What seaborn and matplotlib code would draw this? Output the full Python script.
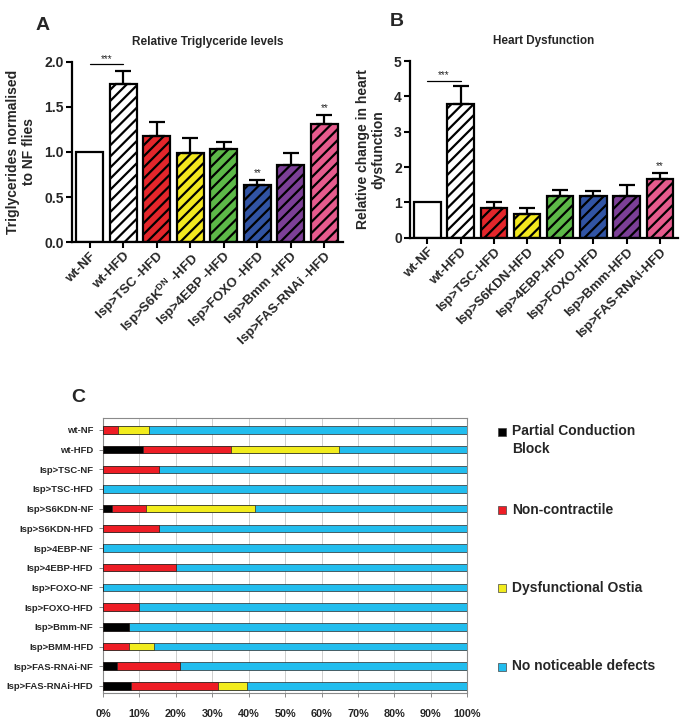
import numpy as np
import pandas as pd
import matplotlib
matplotlib.use("Agg")
import matplotlib.pyplot as plt
import seaborn as sns
from matplotlib.patches import Rectangle

# ── Data ─────────────────────────────────────────────────────────────────────
tg_labels = ["wt-NF", "wt-HFD", "Isp>TSC -HFD", "Isp>S6K$^{DN}$ -HFD",
             "Isp>4EBP -HFD", "Isp>FOXO -HFD", "Isp>Bmm -HFD", "Isp>FAS-RNAi -HFD"]
tg_mean = [1.00, 1.75, 1.18, 0.99, 1.03, 0.63, 0.86, 1.31]
tg_err = [0.00, 0.15, 0.15, 0.17, 0.08, 0.06, 0.13, 0.10]
tg_sig = ["", "", "", "", "", "**", "", "**"]

hd_labels = ["wt-NF", "wt-HFD", "Isp>TSC-HFD", "Isp>S6KDN-HFD",
             "Isp>4EBP-HFD", "Isp>FOXO-HFD", "Isp>Bmm-HFD", "Isp>FAS-RNAi-HFD"]
hd_mean = [1.00, 3.78, 0.84, 0.67, 1.18, 1.17, 1.17, 1.67]
hd_err = [0.00, 0.51, 0.16, 0.17, 0.16, 0.16, 0.33, 0.17]
hd_sig = ["", "", "", "", "", "", "", "**"]

conditions = ["wt-NF", "wt-HFD", "Isp>TSC-NF", "Isp>TSC-HFD", "Isp>S6KDN-NF",
              "Isp>S6KDN-HFD", "Isp>4EBP-NF", "Isp>4EBP-HFD", "Isp>FOXO-NF",
              "Isp>FOXO-HFD", "Isp>Bmm-NF", "Isp>BMM-HFD", "Isp>FAS-RNAi-NF",
              "Isp>FAS-RNAi-HFD"]
partial_block = [0, 10.9, 0, 0, 2.4, 0, 0, 0, 0, 0, 7.1, 0, 3.9, 7.8]
non_contractile = [4.2, 24.3, 15.3, 0, 9.3, 15.3, 0, 20.0, 0, 10.0, 0, 7.1, 17.1, 23.9]
dys_ostia = [8.4, 29.6, 0, 0, 29.9, 0, 0, 0, 0, 0, 0, 7.0, 0, 7.7]
no_defects = [87.4, 35.2, 84.7, 100, 58.4, 84.7, 100, 80.0, 100, 90.0, 92.9, 85.9, 79.0, 60.6]
defect_names = ["Partial Conduction\nBlock", "Non-contractile",
                "Dysfunctional Ostia", "No noticeable defects"]

# ── Styles ───────────────────────────────────────────────────────────────────
bar_colors = ["#ffffff", "#ffffff", "#e4262b", "#f3e81f", "#5db948",
              "#3154a4", "#7c3f97", "#e65b8d"]
bar_hatch = ["", "///", "///", "///", "///", "///", "///", "///"]
defect_colors = ["#000000", "#ee1d25", "#f2ec1d", "#22bdee"]

sns.set_theme(style="ticks")
plt.rcParams["font.family"] = ["Liberation Sans", "DejaVu Sans"]
plt.rcParams["mathtext.fontset"] = "custom"
plt.rcParams["mathtext.rm"] = "Liberation Sans:bold"
plt.rcParams["mathtext.bf"] = "Liberation Sans:bold"
plt.rcParams["mathtext.default"] = "bf"
plt.rcParams["hatch.linewidth"] = 1.6
plt.rcParams["hatch.color"] = "black"

fig = plt.figure(figsize=(6.87, 7.27), dpi=100)


def bar_panel(ax, labels, mean, err, sig, ylim, yticks, yfmt, title, ylabel):
    sns.barplot(x=labels, y=mean, hue=labels, palette=bar_colors, legend=False,
                ax=ax, width=0.8, edgecolor="black", linewidth=1.6, saturation=1)
    for patch, h in zip(ax.patches, bar_hatch):
        patch.set_hatch(h)
    idx = [i for i, e in enumerate(err) if e > 0]
    ax.errorbar(idx, [mean[i] for i in idx],
                yerr=[[0] * len(idx), [err[i] for i in idx]],
                fmt="none", ecolor="black", elinewidth=1.6, capsize=5.5, capthick=1.6)
    for i, s in enumerate(sig):
        if s:
            ax.text(i, mean[i] + err[i] + ylim[1] * 0.012, s, ha="center",
                    va="bottom", fontsize=7)
    ax.set_xlim(-0.52, 7.55)
    ax.set_ylim(*ylim)
    ax.set_yticks(yticks)
    ax.set_yticklabels([yfmt.format(v) for v in yticks], fontsize=10, fontweight="bold")
    ax.set_xticks(range(len(labels)))
    ax.set_xticklabels(labels, rotation=45, ha="right", rotation_mode="anchor",
                       fontsize=9.5, fontweight="bold")
    ax.tick_params(axis="both", length=4, width=1.5, color="black", pad=2)
    for side in ["left", "bottom"]:
        ax.spines[side].set_linewidth(1.6)
        ax.spines[side].set_color("black")
    sns.despine(ax=ax)
    ax.set_title(title, fontsize=8.5, fontweight="bold", pad=12)
    ax.set_ylabel(ylabel, fontsize=10, fontweight="bold", labelpad=6)


# ── Panel A ──────────────────────────────────────────────────────────────────
ax_a = fig.add_axes([0.105, 0.667, 0.394, 0.248])
bar_panel(ax_a, tg_labels, tg_mean, tg_err, tg_sig, (0, 2.0),
          [0.0, 0.5, 1.0, 1.5, 2.0], "{:.1f}", "Relative Triglyceride levels",
          "Triglycerides normalised\nto NF flies")
top_a = tg_mean[1] + tg_err[1] + 0.07
ax_a.plot([0, 1], [top_a, top_a], color="black", lw=0.9, clip_on=False)
ax_a.text(0.5, top_a + 0.01, "***", ha="center", va="bottom", fontsize=7)
fig.text(0.062, 0.965, "A", fontsize=14, fontweight="bold", ha="center", va="center")

# ── Panel B ──────────────────────────────────────────────────────────────────
ax_b = fig.add_axes([0.597, 0.673, 0.390, 0.243])
bar_panel(ax_b, hd_labels, hd_mean, hd_err, hd_sig, (0, 5),
          [0, 1, 2, 3, 4, 5], "{:d}", "Heart Dysfunction",
          "Relative change in heart\ndysfunction")
top_b = hd_mean[1] + hd_err[1] + 0.14
ax_b.plot([0, 1], [top_b, top_b], color="black", lw=0.9, clip_on=False)
ax_b.text(0.5, top_b + 0.02, "***", ha="center", va="bottom", fontsize=7)
fig.text(0.578, 0.971, "B", fontsize=14, fontweight="bold", ha="center", va="center")

# ── Panel C ──────────────────────────────────────────────────────────────────
ax_c = fig.add_axes([0.150, 0.047, 0.530, 0.378])
layers = [partial_block, non_contractile, dys_ostia, no_defects]
cum = np.cumsum(np.array(layers, dtype=float), axis=0)
for k in range(len(layers) - 1, -1, -1):
    sns.barplot(x=cum[k], y=conditions, orient="h", color=defect_colors[k],
                saturation=1, width=0.38, edgecolor="#2a2a2a", linewidth=0.5,
                ax=ax_c, zorder=3)
ax_c.set_xlim(0, 100)
ax_c.set_ylim(len(conditions) - 0.65, -0.6)
ax_c.set_xticks(np.arange(0, 101, 10))
ax_c.set_xticklabels([f"{v}%" for v in range(0, 101, 10)], fontsize=7.8,
                     fontweight="bold")
ax_c.set_yticklabels(conditions, fontsize=6.8, fontweight="bold")
ax_c.grid(axis="x", color="#cfcfcf", lw=0.7, zorder=0)
ax_c.set_axisbelow(True)
ax_c.tick_params(axis="y", length=3, width=0.6, color="#777777", pad=4)
ax_c.tick_params(axis="x", length=3, width=0.6, color="#777777", pad=9)
for sp in ax_c.spines.values():
    sp.set_color("#8a8a8a")
    sp.set_linewidth(0.8)
ax_c.set_xlabel("")
ax_c.set_ylabel("")
fig.text(0.114, 0.453, "C", fontsize=14, fontweight="bold", ha="center", va="center")

# legend
leg_y = [0.406, 0.298, 0.191, 0.083]
for name, col, y in zip(defect_names, defect_colors, leg_y):
    fig.add_artist(Rectangle((0.725, y - 0.0055), 0.0115, 0.011, color=col,
                             ec="#444444", lw=0.5, transform=fig.transFigure))
    fig.text(0.745, y + 0.0105, name, fontsize=10, fontweight="bold",
             ha="left", va="top", linespacing=1.35)

fig.savefig("out.png", dpi=100)
